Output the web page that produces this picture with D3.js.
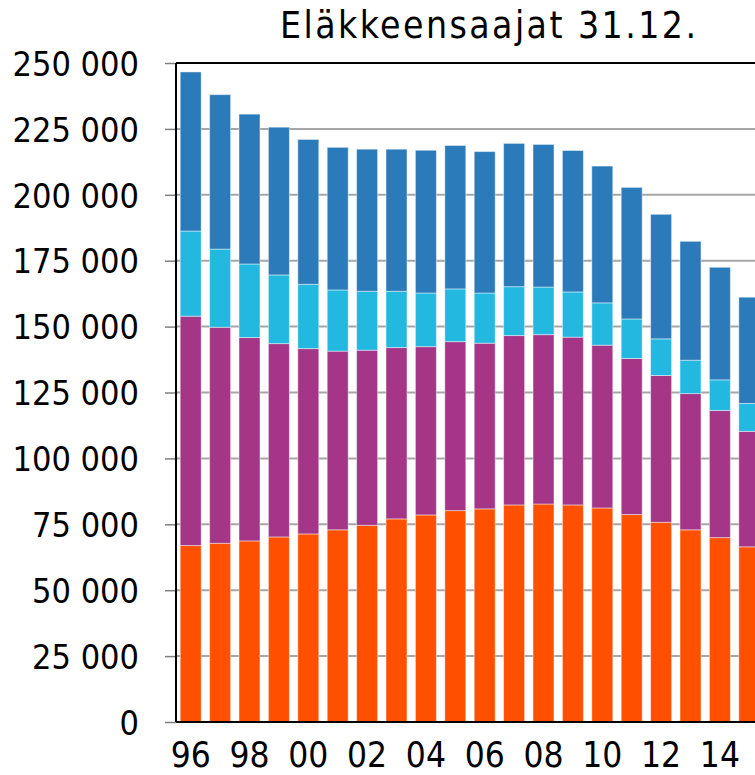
<!DOCTYPE html>
<html>
<head>
<meta charset="utf-8">
<script src="https://cdn.jsdelivr.net/npm/d3@7"></script>
<style>
  body { margin: 0; background: #fff; }
  text { font-family: "DejaVu Sans Condensed", "DejaVu Sans", sans-serif; fill: #000; }
</style>
</head>
<body>
<div id="chart"></div>
<script>
// vuodet 1996-2015
var years = ["96","97","98","99","00","01","02","03","04","05","06","07","08","09","10","11","12","13","14","15"];
var tickYears = ["96","98","00","02","04","06","08","10","12","14"];
var yTicks = [0, 25000, 50000, 75000, 100000, 125000, 150000, 175000, 200000, 225000, 250000];

// sarjat alhaalta ylös
var orange = [66950, 67800, 68700, 70200, 71350, 72900, 74600, 77050, 78550, 80200, 80850, 82350, 82700, 82350, 81200, 78700, 75750, 72900, 69950, 66450];
var purple = [87000, 81950, 77150, 73350, 70300, 67800, 66450, 65000, 63850, 64100, 62850, 64250, 64250, 63650, 61750, 59200, 55700, 51700, 48250, 43800];
var cyan   = [32300, 29650, 27900, 26050, 24400, 23200, 22350, 21350, 20350, 20000, 19050, 18550, 18050, 17150, 16050, 15000, 13900, 12650, 11600, 10600];
var blue   = [60350, 58600, 56850, 56050, 54950, 54100, 53900, 53900, 54150, 54400, 53650, 54350, 54100, 53650, 51900, 49900, 47250, 45100, 42700, 40300];

var seriesKeys = ["orange", "purple", "cyan", "blue"];
var seriesColors = ["#ff5000", "#a43587", "#22b8e0", "#2b7ab9"];

var table = years.map(function(y, i) {
    return { year: y, orange: orange[i], purple: purple[i], cyan: cyan[i], blue: blue[i] };
});

var width = 755, height = 775;
var plotLeft = 176, plotRight = 764, plotTop = 63, plotBottom = 722;

var svg = d3.select("#chart")
    .append("svg")
    .attr("width", width)
    .attr("height", height);

var x = d3.scaleBand()
    .domain(years)
    .range([plotLeft, plotRight])
    .paddingInner(0.286)
    .paddingOuter(0.143);

var y = d3.scaleLinear()
    .domain([0, 250000])
    .range([plotBottom, plotTop]);

// gridlines
svg.append("g")
    .selectAll("line")
    .data(yTicks.filter(function(d) { return d > 0 && d < 250000; }))
    .enter()
    .append("line")
    .attr("x1", plotLeft)
    .attr("x2", width)
    .attr("y1", function(d) { return y(d); })
    .attr("y2", function(d) { return y(d); })
    .style("stroke", "#a6a6a6")
    .style("stroke-width", 2);

var stacked = d3.stack().keys(seriesKeys)(table);

svg.append("g")
    .selectAll("g")
    .data(stacked)
    .enter()
    .append("g")
    .style("fill", function(d, i) { return seriesColors[i]; })
    .selectAll("rect")
    .data(function(d) { return d; })
    .enter()
    .append("rect")
    .attr("x", function(d) { return x(d.data.year); })
    .attr("y", function(d) { return y(d[1]); })
    .attr("width", x.bandwidth())
    .attr("height", function(d) { return y(d[0]) - y(d[1]); })
    .style("stroke", "rgba(255,255,255,0.45)")
    .style("stroke-width", 1);

// y-akseli
var yAxis = d3.axisLeft(y)
    .tickValues(yTicks)
    .tickSize(11)
    .tickPadding(26)
    .tickFormat(function(d) { return d === 0 ? "0" : d3.format(",")(d).replace(/,/g, " "); });

var gy = svg.append("g")
    .attr("transform", "translate(" + plotLeft + ",0)")
    .call(yAxis);
gy.select(".domain").remove();
gy.selectAll(".tick line").style("stroke", "#808080").style("stroke-width", 1.5);
gy.selectAll(".tick text")
    .style("font-size", "34px")
    .attr("dy", "0.36em");

// kehys
svg.append("line")
    .attr("x1", plotLeft).attr("x2", plotLeft)
    .attr("y1", plotTop).attr("y2", plotBottom)
    .style("stroke", "#000").style("stroke-width", 2);
svg.append("line")
    .attr("x1", plotLeft).attr("x2", width)
    .attr("y1", plotTop).attr("y2", plotTop)
    .style("stroke", "#000").style("stroke-width", 2);
svg.append("line")
    .attr("x1", plotLeft).attr("x2", width)
    .attr("y1", plotBottom).attr("y2", plotBottom)
    .style("stroke", "#000").style("stroke-width", 2);

// x-akselin vuodet
var xAxis = d3.axisBottom(x)
    .tickValues(tickYears)
    .tickSize(0)
    .tickPadding(20);

var gx = svg.append("g")
    .attr("transform", "translate(0," + plotBottom + ")")
    .call(xAxis);
gx.select(".domain").remove();
gx.selectAll(".tick text")
    .style("font-size", "35px");

// otsikko
svg.append("text")
    .attr("x", 488)
    .attr("y", 38)
    .attr("text-anchor", "middle")
    .attr("textLength", 416)
    .attr("lengthAdjust", "spacing")
    .style("font-family", "'DejaVu Sans Condensed', 'DejaVu Sans', sans-serif")
    .style("font-size", "37px")
    .text("Eläkkeensaajat 31.12.");
</script>
</body>
</html>
